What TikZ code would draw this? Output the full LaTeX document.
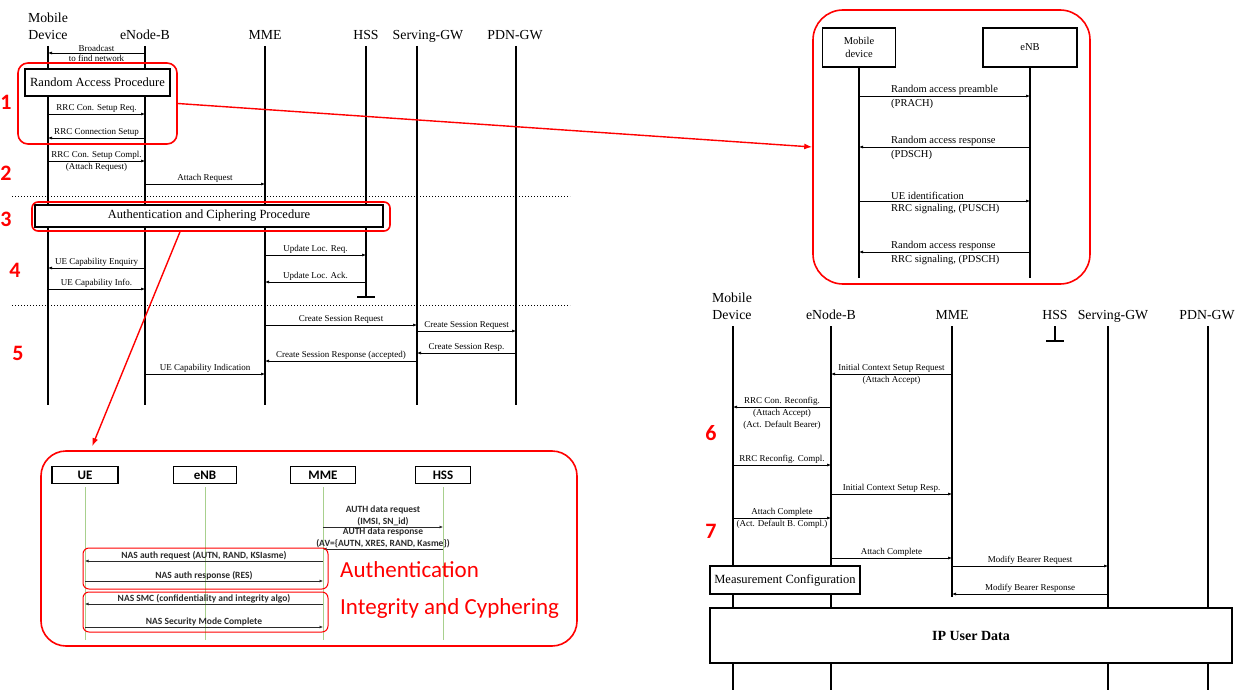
\documentclass[tikz,border=0pt]{standalone}
\usepackage{fontspec}
\setmainfont{Liberation Serif}
\newfontfamily\carlito{Carlito}
\usetikzlibrary{arrows.meta,positioning}
\definecolor{rojo}{HTML}{FF0000}
\definecolor{verdevida}{HTML}{A8D08D}
\definecolor{grisnas}{HTML}{2A2A2A}
\tikzset{
  cab/.style={font=\fontsize{13.8}{17}\selectfont, align=center, inner sep=0pt},
  vida/.style={line width=1.3pt},
  msj/.style={-{Latex[length=4pt,width=3pt]}, line width=0.7pt},
  etq/.style={font=\fontsize{9}{12}\selectfont, inner sep=1.5pt},
  etqd/.style={font=\fontsize{10.5}{12}\selectfont, inner sep=1.5pt},
  caja/.style={draw, line width=1.1pt, fill=white, align=center, inner sep=0pt},
  marco/.style={draw=rojo, line width=1.6pt, rounded corners=#1, inner sep=0pt},
  marco/.default=10pt,
  num/.style={text=rojo, font=\carlito\bfseries\fontsize{22}{22}\selectfont, inner sep=0pt},
  enlace/.style={rojo, line width=1.4pt, -{Latex[length=8pt,width=6pt]}},
  corte/.style={dotted, line width=1pt},
  nas/.style={font=\carlito\bfseries\fontsize{9.5}{12}\selectfont, text=grisnas, inner sep=1pt},
  nasmsj/.style={-{Latex[length=3.5pt,width=3pt]}, line width=0.6pt, grisnas},
  nascaja/.style={draw, line width=1.2pt, font=\carlito\bfseries\fontsize{13}{13}\selectfont,
    minimum height=17pt, inner sep=0pt},
  rojotxt/.style={text=rojo, font=\carlito\fontsize{23}{23}\selectfont, anchor=west, inner sep=0pt},
}

\begin{document}
\begin{tikzpicture}[x=1pt, y=-1pt]
\useasboundingbox (0,0) rectangle (1240,690);

% Attach, first part: lifelines
\foreach \x/\tx/\yb/\id/\nom in {48/48/405/ma/{Mobile\\Device}, 145/145/405/ea/eNode-B, 265/265/405/ka/MME,
    366/366/297/ha/HSS, 417/428/405/sa/Serving-GW, 516/515/405/pa/PDN-GW}{
  \node[cab, anchor=base] (t\id) at (\tx,40) {\nom};
  \coordinate (\id) at (\x,46);
  \draw[vida] (\id) -- (\x,\yb);
}
\draw[vida] (357,297) -- (375,297);

% messages
\draw[msj] (ea |- 0,53) -- node[etq, above]{Broadcast} node[etq, below]{to find network} (ma |- 0,53);
\node[caja, minimum width=145pt, minimum height=27pt, font=\fontsize{12.5}{14}\selectfont] (rap) at (97.5,82.5) {Random Access Procedure};
\draw[msj] (ma |- 0,114) -- node[etq, above]{RRC Con. Setup Req.} (ea |- 0,114);
\draw[msj] (ea |- 0,138) -- node[etq, above]{RRC Connection Setup} (ma |- 0,138);
\draw[msj] (ma |- 0,161) -- node[etq, above]{RRC Con. Setup Compl.} node[etq, below]{(Attach Request)} (ea |- 0,161);
\draw[msj] (ea |- 0,184) -- node[etq, above]{Attach Request} (ka |- 0,184);
\draw[corte] (12,196) -- (570,196);
\node[caja, minimum width=348pt, minimum height=22pt, font=\fontsize{12.5}{14}\selectfont] (acp) at (209,216) {Authentication and Ciphering Procedure};
\draw[msj] (ka |- 0,255) -- node[etq, above]{Update Loc. Req.} (ha |- 0,255);
\draw[msj] (ha |- 0,282) -- node[etq, above]{Update Loc. Ack.} (ka |- 0,282);
\draw[msj] (ea |- 0,268) -- node[etq, above]{UE Capability Enquiry} (ma |- 0,268);
\draw[msj] (ma |- 0,289) -- node[etq, above]{UE Capability Info.} (ea |- 0,289);
\draw[corte] (12,305) -- (570,305);
\draw[msj] (ka |- 0,325) -- node[etq, above]{Create Session Request} (sa |- 0,325);
\draw[msj] (sa |- 0,331) -- node[etq, above]{Create Session Request} (pa |- 0,331);
\draw[msj] (pa |- 0,353) -- node[etq, above]{Create Session Resp.} (sa |- 0,353);
\draw[msj] (sa |- 0,361) -- node[etq, above]{Create Session Response (accepted)} (ka |- 0,361);
\draw[msj] (ea |- 0,374) -- node[etq, above]{UE Capability Indication} (ka |- 0,374);

% red frames and step numbers
\node[marco, minimum width=159pt, minimum height=81pt] (f1) at (97.5,103.5) {};
\node[marco=6pt, minimum width=358pt, minimum height=29pt] (f3) at (211,216.5) {};
\foreach \x/\y/\n in {6/102/1, 6/173/2, 6/219/3, 15/270/4, 18/353/5, 711/433/6, 711/531/7}
  \node[num] (n\n) at (\x,\y) {\n};

% Random access detail
\node[marco=30pt, minimum width=277pt, minimum height=274pt] (fra) at (951.5,147) {};
\node[caja, minimum width=73pt, minimum height=39pt, font=\fontsize{10.5}{12.5}\selectfont] (rmd) at (859,47.5) {Mobile\\device};
\node[caja, minimum width=94pt, minimum height=39pt, font=\fontsize{10.5}{12.5}\selectfont] (renb) at (1030,47.5) {eNB};
\draw[vida] (rmd.south) -- (rmd.south |- 0,278);
\draw[vida] (renb.south) -- (renb.south |- 0,278);
\draw[msj] (rmd |- 0,96) -- (renb |- 0,96);
\node[etqd, anchor=south west] (ra1) at (889.5,96) {Random access preamble};
\node[etqd, anchor=north west] (ra2) at (889.5,98) {(PRACH)};
\draw[msj] (renb |- 0,147) -- (rmd |- 0,147);
\node[etqd, anchor=south west] (ra3) at (889.5,147) {Random access response};
\node[etqd, anchor=north west] (ra4) at (889.5,149) {(PDSCH)};
\draw[msj] (rmd |- 0,201) -- (renb |- 0,201);
\node[etqd, anchor=south west] (ra5) at (889.5,201) {UE identification};
\node[etqd, anchor=north west] (ra6) at (889.5,203) {RRC signaling, (PUSCH)};
\draw[msj] (renb |- 0,252) -- (rmd |- 0,252);
\node[etqd, anchor=south west] (ra7) at (889.5,252) {Random access response};
\node[etqd, anchor=north west] (ra8) at (889.5,254) {RRC signaling, (PDSCH)};

% Authentication detail
\node[marco=25pt, minimum width=536pt, minimum height=195pt] (fbl) at (309,548.5) {};
\foreach \x/\w/\id/\nom in {85/66/ue/UE, 205/63/enb/eNB, 323/65/mme/MME, 443/55/hss/HSS}{
  \node[nascaja, minimum width=\w pt] (\id) at (\x,475) {\nom};
  \draw[verdevida, line width=1pt] ([yshift=-3pt]\id.south) -- (\x,640);
}
\draw[nasmsj] (mme |- 0,527) -- node[nas, above, align=center]{AUTH data request\\(IMSI, SN\_id)} (hss |- 0,527);
\draw[nasmsj] (hss |- 0,549) -- node[nas, above, align=center]{AUTH data response\\(AV=\{AUTN, XRES, RAND, Kasme\})} (mme |- 0,549);
\draw[nasmsj] (mme |- 0,561) -- node[nas, above]{NAS auth request (AUTN, RAND, KSIasme)} (ue |- 0,561);
\draw[nasmsj] (ue |- 0,581) -- node[nas, above]{NAS auth response (RES)} (mme |- 0,581);
\draw[nasmsj] (mme |- 0,604) -- node[nas, above]{NAS SMC (confidentiality and integrity algo)} (ue |- 0,604);
\draw[nasmsj] (ue |- 0,627) -- node[nas, above]{NAS Security Mode Complete} (mme |- 0,627);
\node[marco=6pt, line width=1pt, minimum width=245pt, minimum height=41pt] (fau) at (205.5,568.5) {};
\node[marco=6pt, line width=1pt, minimum width=245pt, minimum height=40pt] (fin) at (205.5,612) {};
\node[rojotxt] (tau) at (340,570) {Authentication};
\node[rojotxt] (tin) at (340,608) {Integrity and Cyphering};

% Attach, second part
\foreach \x/\tx/\yb/\id/\nom in {733/732/690/mb/{Mobile\\Device}, 831/831/690/eb/eNode-B, 952/952/597/kb/MME,
    1055/1055/341/hb/HSS, 1108/1113/690/sb/Serving-GW, 1208/1207/690/pb/PDN-GW}{
  \node[cab, anchor=base] (t\id) at (\tx,319) {\nom};
  \coordinate (\id) at (\x,326);
  \draw[vida] (\id) -- (\x,\yb);
}
\draw[vida] (1046,341) -- (1064,341);
\draw[msj] (kb |- 0,374) -- node[etq, above]{Initial Context Setup Request} node[etq, below]{(Attach Accept)} (eb |- 0,374);
\draw[msj] (eb |- 0,407) -- node[etq, above]{RRC Con. Reconfig.} node[etq, below, align=center]{(Attach Accept)\\(Act. Default Bearer)} (mb |- 0,407);
\draw[msj] (mb |- 0,465) -- node[etq, above]{RRC Reconfig. Compl.} (eb |- 0,465);
\draw[msj] (eb |- 0,494) -- node[etq, above]{Initial Context Setup Resp.} (kb |- 0,494);
\draw[msj] (mb |- 0,518) -- node[etq, above]{Attach Complete} node[etq, below]{(Act. Default B. Compl.)} (eb |- 0,518);
\draw[msj] (eb |- 0,558) -- node[etq, above]{Attach Complete} (kb |- 0,558);
\draw[msj] (kb |- 0,566) -- node[etq, above]{Modify Bearer Request} (sb |- 0,566);
\draw[msj] (sb |- 0,594) -- node[etq, above]{Modify Bearer Response} (kb |- 0,594);
\node[caja, minimum width=150pt, minimum height=28pt, font=\fontsize{12.5}{14}\selectfont] (mcf) at (785,580) {Measurement Configuration};
\node[caja, minimum width=522pt, minimum height=55pt, font=\bfseries\fontsize{14}{16}\selectfont] (ipd) at (971,635.5) {IP User Data};

% links to the detail panels
\draw[enlace] (f1.east) -- (fra.west);
\draw[enlace] ([xshift=-31pt]f3.south) -- ([xshift=52pt, yshift=4pt]fbl.north west);
\end{tikzpicture}
\end{document}
